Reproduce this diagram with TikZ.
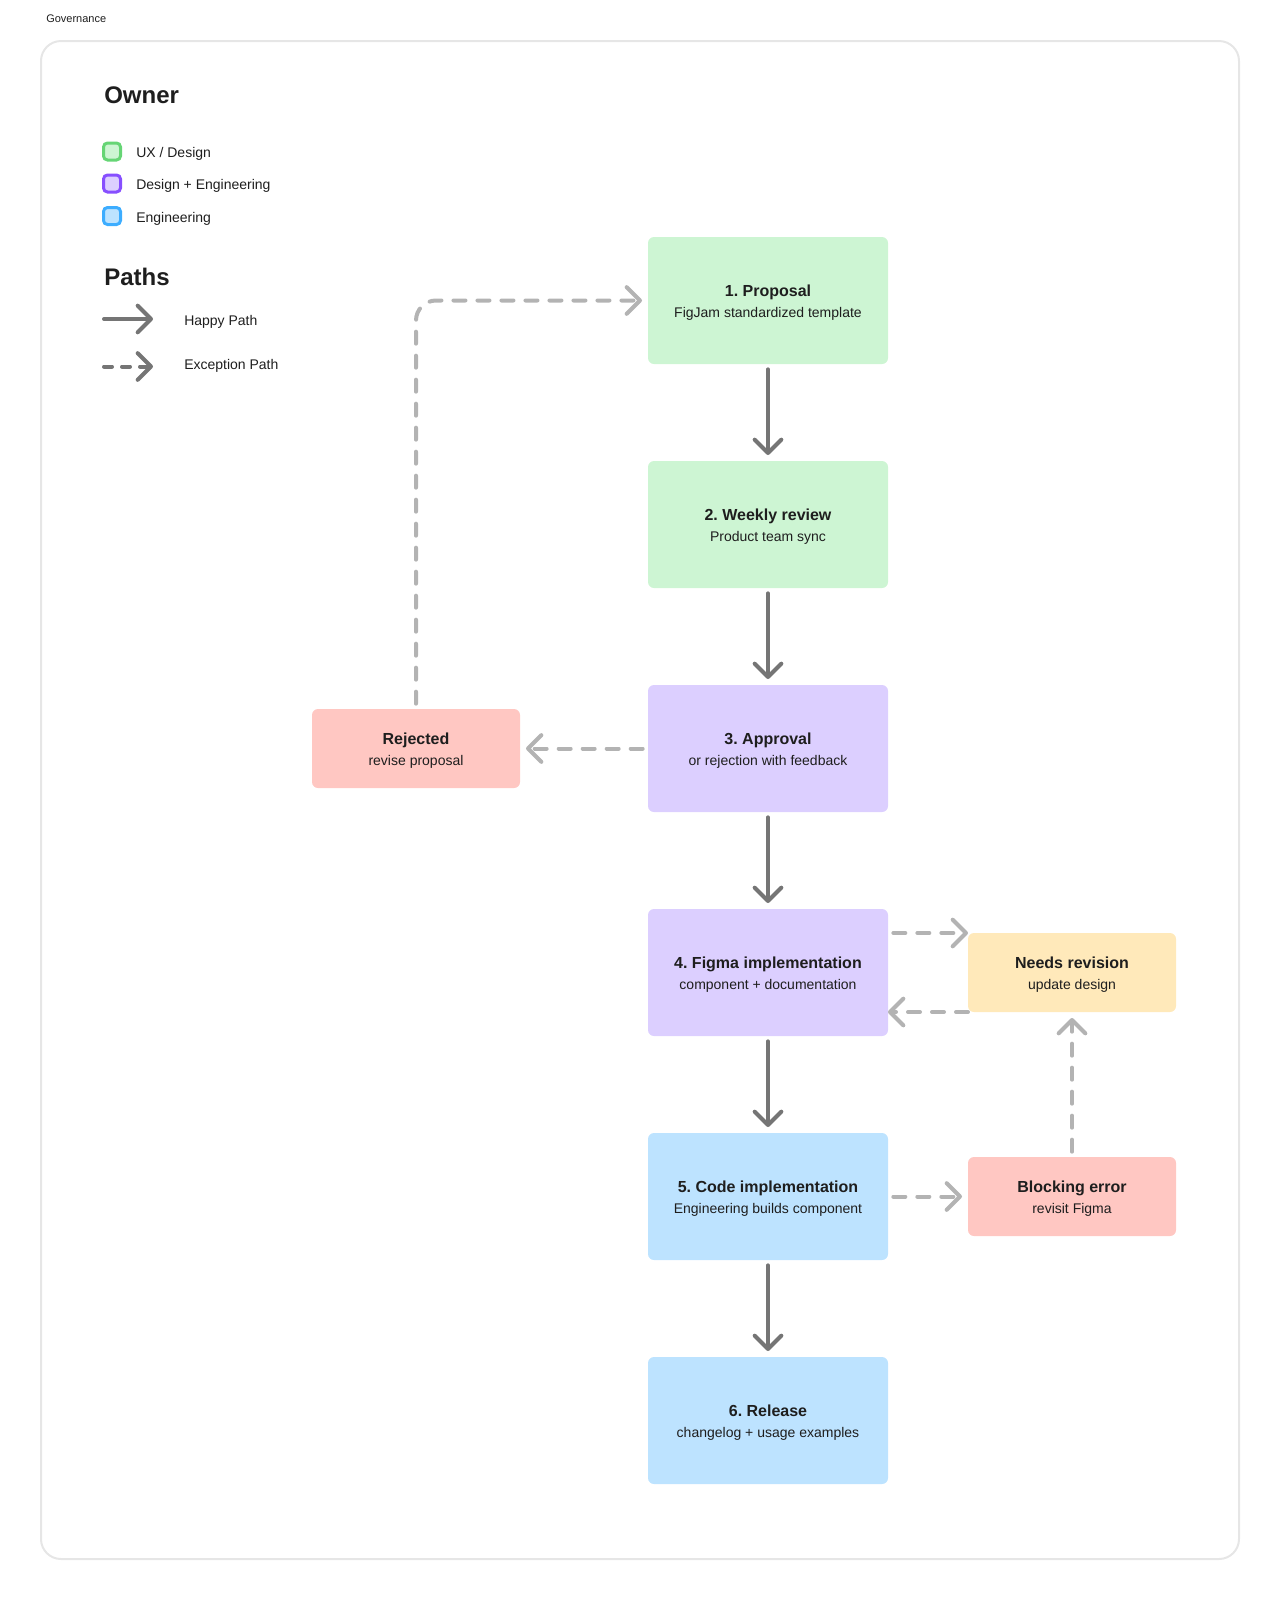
\documentclass[tikz,border=0pt]{standalone}
\usepackage{fontspec}
\setmainfont{Liberation Sans}
\usetikzlibrary{arrows.meta,positioning}
\definecolor{ink}{HTML}{1E1E1E}
\definecolor{uxfill}{HTML}{CDF5D3}
\definecolor{uxline}{HTML}{66D575}
\definecolor{defill}{HTML}{DCCFFF}
\definecolor{deline}{HTML}{874FFF}
\definecolor{engfill}{HTML}{BDE3FF}
\definecolor{engline}{HTML}{3DADFF}
\definecolor{redfill}{HTML}{FFC7C2}
\definecolor{yelfill}{HTML}{FFE9BA}
\definecolor{happy}{HTML}{757575}
\definecolor{except}{HTML}{B3B3B3}
\definecolor{frame}{HTML}{E6E6E6}
\newcommand\boxtitle[1]{{\fontsize{12}{15.5}\selectfont\bfseries\rule{0pt}{11.75pt}#1}}

\begin{document}
\begin{tikzpicture}[x=0.75pt,y=-0.75pt,>={Straight Barb[round,length=10pt,width=20pt]}]
  \useasboundingbox (0,0) rectangle (1280,1600);
  \tikzset{Box/.style={rounded corners=4.5pt,outer sep=0pt,inner sep=0pt,align=center,text=ink,
                       font=\fontsize{10.5}{15.5}\selectfont,minimum width=180pt,minimum height=95.25pt},
           Small/.style={Box,minimum width=156pt,minimum height=59.25pt},
           Head/.style={anchor=base west,inner sep=0pt,text=ink,font=\fontsize{18}{22}\selectfont\bfseries},
           Lab/.style={anchor=base west,inner sep=0pt,text=ink,font=\fontsize{10.5}{13}\selectfont},
           Key/.style={rounded corners=3pt,line width=2.25pt,minimum size=12.75pt,inner sep=0pt}}
  \draw[frame,line width=1.5pt,rounded corners=15pt] (41,41) rectangle (1239,1559);
  \node[anchor=base west,inner sep=0pt,text=ink,font=\fontsize{8.25}{10}\selectfont] (gov) at (46,22) {Governance};
  \node[Head] (own) at (104,103.5) {Owner};
  \node[Key,draw=uxline,fill=uxfill] (k1) at (112,151.5) {};
  \node[Key,draw=deline,fill=defill] (k2) at (112,183.5) {};
  \node[Key,draw=engline,fill=engfill] (k3) at (112,216) {};
  \node[Lab] (l1) at (136,157) {UX / Design};
  \node[Lab] (l2) at (136,189.5) {Design + Engineering};
  \node[Lab] (l3) at (136,222) {Engineering};
  \node[Head] (pth) at (104,285.5) {Paths};
  \node[Lab] (l4) at (184,325) {Happy Path};
  \node[Lab] (l5) at (184,369.5) {Exception Path};
  \coordinate (h1) at (104,319);
  \coordinate (h2) at (153,319);
  \coordinate (e1) at (104,366.5);
  \coordinate (e2) at (153,366.5);

  \tikzset{node distance = 72.75pt}
  \node[Box,fill=uxfill] (P) at (768,300.5) {\boxtitle{1.\ Proposal}\\FigJam standardized template};
  \node[Box,fill=uxfill,below=of P] (W) {\boxtitle{2.\ Weekly review}\\Product team sync};
  \node[Box,fill=defill,below=of W] (A) {\boxtitle{3.\ Approval}\\or rejection with feedback};
  \node[Box,fill=defill,below=of A] (F) {\boxtitle{4.\ Figma implementation}\\component + documentation};
  \node[Box,fill=engfill,below=of F] (C) {\boxtitle{5.\ Code implementation}\\Engineering builds component};
  \node[Box,fill=engfill,below=of C] (R) {\boxtitle{6.\ Release}\\changelog + usage examples};
  \node[Small,fill=redfill,left=96pt of A] (J) {\boxtitle{Rejected}\\revise proposal};
  \node[Small,fill=yelfill,right=60pt of F] (N) {\boxtitle{Needs revision}\\update design};
  \node[Small,fill=redfill,right=60pt of C] (E) {\boxtitle{Blocking error}\\revisit Figma};

  \tikzset{EdgeStyle/.style={->,draw=happy,line width=3pt,line cap=round,shorten <=4pt,shorten >=4.5pt}}
  \draw[EdgeStyle,shorten <=0pt,shorten >=0pt] (h1) -- (h2);
  \draw[EdgeStyle] (P) -- (W);
  \draw[EdgeStyle] (W) -- (A);
  \draw[EdgeStyle] (A) -- (F);
  \draw[EdgeStyle] (F) -- (C);
  \draw[EdgeStyle] (C) -- (R);
  \tikzset{EdgeStyle/.style={->,draw=except,line width=3pt,line cap=round,dash pattern=on 9pt off 9pt,
                             shorten <=4pt,shorten >=4.5pt}}
  \draw[EdgeStyle,draw=happy,dash pattern=on 6pt off 7.5pt,shorten <=0pt,shorten >=0pt] (e1) -- (e2);
  \draw[EdgeStyle] (A) -- (J);
  \draw[EdgeStyle,rounded corners=15pt] (J) |- (P);
  \draw[EdgeStyle,shorten >=0pt] (F.east |- N.north) -- (N.north west);
  \draw[EdgeStyle,shorten <=0pt,shorten >=0pt] (N.south west) -- (F.east |- N.south);
  \draw[EdgeStyle] (E) -- (N);
  \draw[EdgeStyle] (C) -- (E);
\end{tikzpicture}
\end{document}
